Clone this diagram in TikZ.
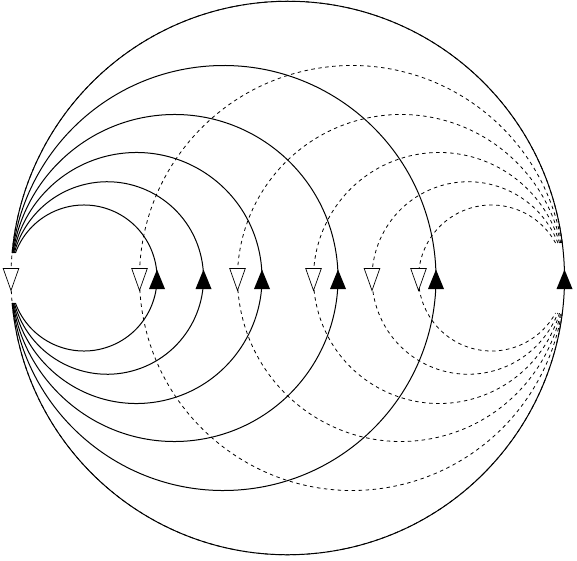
\documentclass[tikz,border=0pt]{standalone}
\tikzset{
  solidc/.style={line width=1pt, black},
  dashc/.style={line width=0.8pt, black, dash pattern=on 3.5pt off 3.5pt},
  uptri/.pic={\fill[black] (-8,-11) -- (8,-11) -- (0,8.5) -- cycle;},
  downtri/.pic={\draw[fill=white, line width=0.7pt, line join=miter] (-7.8,9.5) -- (7.8,9.5) -- (0,-12.5) -- cycle;}
}
\begin{document}
\begin{tikzpicture}[x=1pt,y=1pt]
  \useasboundingbox (0,0) rectangle (577,560);
  % left family (solid), tangent at left point
  \foreach \r in {73,96.25,125.5,163.5,212.5,276.75}{
    \pgfmathsetmacro{\a}{asin(25/\r)}
    \draw[solidc] ({11+\r-\r*cos(\a)},257) arc[start angle={-180+\a}, end angle={180-\a}, radius=\r];
  }
  % right family (dashed), tangent at right point
  \foreach \r in {73,96.25,125.5,163.5,212.5,276.75}{
    \pgfmathsetmacro{\b}{asin(35/\r)}
    \draw[dashc] ({564.5-\r+\r*cos(\b)},317) arc[start angle={\b}, end angle={360-\b}, radius=\r];
  }
  % markers
  \foreach \x [count=\i] in {157,203.5,262,338,436,564.5}{
    \coordinate (f\i) at (\x,282);
    \pic at (f\i) {uptri};
  }
  \foreach \x [count=\i] in {11,139.5,237.5,313.5,372,418.5}{
    \coordinate (o\i) at (\x,282);
    \pic at (o\i) {downtri};
  }
\end{tikzpicture}
\end{document}
